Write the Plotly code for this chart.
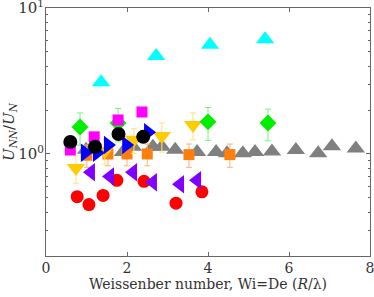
import plotly.graph_objects as go

# ---- data ----
gray_x = [0.99, 1.90, 2.15, 2.64, 2.86, 3.19, 3.73, 4.20, 4.47, 4.86, 5.16, 5.58, 6.17, 6.72, 7.06, 7.65]
gray_y = [1.07, 1.03, 1.12, 1.12, 1.12, 1.07, 1.03, 1.03, 1.01, 1.01, 1.03, 1.04, 1.065, 1.01, 1.13, 1.09]

orange_x = [1.01, 1.53, 2.00, 2.50, 3.53, 4.54]
orange_y = [0.98, 1.00, 1.00, 1.00, 0.99, 0.99]
orange_e = [0.17, 0.17, 0.17, 0.17, 0.18, 0.18]

yellow_x = [0.74, 1.45, 2.17, 2.86, 3.63]
yellow_y = [0.80, 1.05, 1.25, 1.33, 1.58]
yellow_e = [0.17, 0.20, 0.24, 0.30, 0.33]

red_x = [0.77, 1.06, 1.41, 1.75, 2.42, 3.21, 3.85]
red_y = [0.51, 0.45, 0.52, 0.66, 0.65, 0.46, 0.55]

purple_x = [1.11, 1.58, 2.15, 2.64, 3.31, 3.73]
purple_y = [0.75, 0.70, 0.75, 0.64, 0.62, 0.66]

green_x = [0.84, 1.78, 4.00, 5.48]
green_y = [1.53, 1.63, 1.66, 1.63]
green_e = [0.38, 0.42, 0.42, 0.40]

cyan_x = [1.36, 2.72, 4.05, 5.41]
cyan_y = [3.10, 4.70, 5.60, 6.10]

magenta_x = [0.60, 1.19, 1.78, 2.37]
magenta_y = [1.065, 1.31, 1.71, 1.94]

blue_x = [0.96, 1.26, 1.53, 1.98, 2.52]
blue_y = [1.02, 1.02, 1.15, 1.15, 1.41]

black_x = [0.60, 1.21, 1.79, 2.40]
black_y = [1.21, 1.12, 1.37, 1.31]

x_ticks = [0, 2, 4, 6, 8]
y_ticks = [1, 10]
y_ticktext = ["10<sup>0</sup>", "10<sup>1</sup>"]
y_minor = [0.2, 0.3, 0.4, 0.5, 0.6, 0.7, 0.8, 0.9, 2, 3, 4, 5, 6, 7, 8, 9]

fig = go.Figure()

def add(x, y, color, symbol, size, err=None, ecolor=None):
    tr = dict(x=x, y=y, mode="markers", showlegend=False,
              marker=dict(color=color, symbol=symbol, size=size, line=dict(width=0)))
    if err is not None:
        tr["error_y"] = dict(type="data", array=err, visible=True,
                             color=ecolor, thickness=1, width=3)
    fig.add_trace(go.Scatter(**tr))

add(gray_x, gray_y, "#808080", "triangle-up", 16)
add(orange_x, orange_y, "#ff7f0e", "square", 11, orange_e, "#ffb27a")
add(yellow_x, yellow_y, "#ffcc00", "triangle-down", 16, yellow_e, "#ffe27a")
add(red_x, red_y, "#ff0000", "circle", 13)
add(purple_x, purple_y, "#8000ff", "triangle-left", 16)
add(green_x, green_y, "#00ee00", "diamond", 13, green_e, "#7cf07c")
add(cyan_x, cyan_y, "#00ffff", "triangle-up", 16)
add(magenta_x, magenta_y, "#ff00ff", "square", 11)
add(blue_x, blue_y, "#0000ff", "triangle-right", 16)
add(black_x, black_y, "#000000", "circle", 14)

axcol = "#666666"
fig.update_layout(
    width=374, height=297,
    margin=dict(l=46, r=4, t=8, b=41),
    paper_bgcolor="white", plot_bgcolor="white",
    font=dict(family="DejaVu Serif", size=14, color="#333333"),
)
fig.update_xaxes(
    range=[0, 8.0001], tickvals=x_ticks, ticks="inside", ticklen=4, tickcolor=axcol,
    showline=True, linecolor=axcol, linewidth=1, mirror="ticks",
    showgrid=False, zeroline=False, ticklabeloverflow="allow", automargin=False,
    ticklabelstandoff=-1,
    title=dict(text="Weissenber number, Wi=De (<i>R</i>/λ)", standoff=4, font=dict(size=14)),
    tickfont=dict(size=14),
)
fig.update_yaxes(
    type="log", range=[-0.699, 1.0001], tickvals=y_ticks, ticktext=y_ticktext,
    ticks="inside", ticklen=4, tickcolor=axcol,
    minor=dict(tickvals=y_minor, ticks="inside", ticklen=2, tickcolor=axcol, showgrid=False),
    showline=True, linecolor=axcol, linewidth=1, mirror="ticks",
    showgrid=False, zeroline=False, ticklabeloverflow="allow", automargin=False,
    ticklabelstandoff=-2,
    title=dict(text="<i>U<sub>NN</sub></i>/<i>U<sub>N</sub></i>", standoff=0, font=dict(size=15)),
    tickfont=dict(size=15),
)

fig.write_html("out.html", config={"displayModeBar": False},
               post_script="document.body.style.margin='0px';")
